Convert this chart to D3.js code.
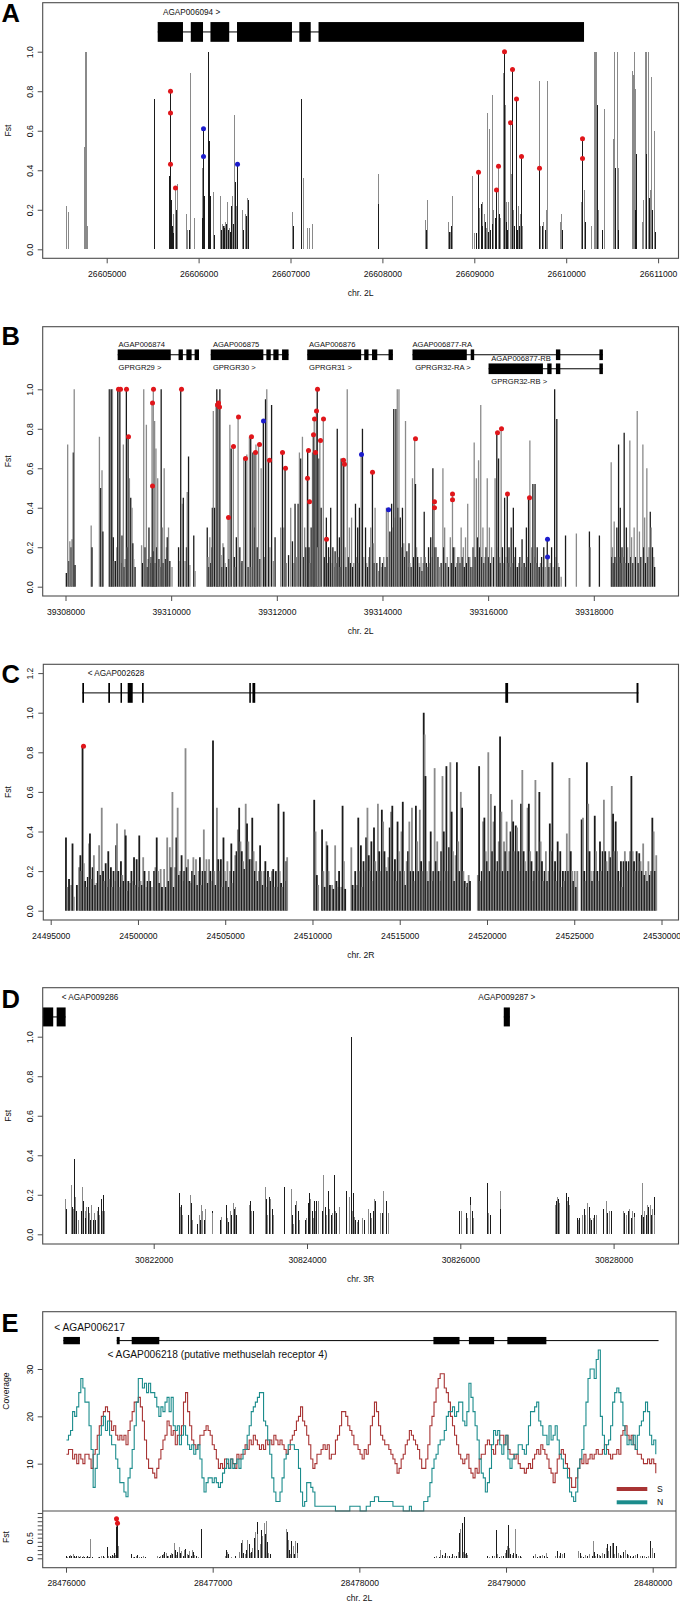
<!DOCTYPE html>
<meta charset="utf-8">
<style>
body { margin: 0; background: #fff; }
svg text { font-family: "Liberation Sans", Arial, Helvetica, sans-serif; }
</style>
<body>
<script src="https://cdn.jsdelivr.net/npm/d3@7"></script>
<script>

// ---------- panel A : chr. 2L, AGAP006094 ----------
var aBase = 26604000;
var aTicks = [26605000, 26606000, 26607000, 26608000, 26609000, 26610000, 26611000];
var aYTicks = [0, 0.2, 0.4, 0.6, 0.8, 1.0];
var aFstDark = [[1517,.76],[1683,.37],[1692,.80],[1702,.25],[1711,.12],[1726,.08],[1749,.20],[1892,.10],[2039,.16],[2048,.61],[2058,.27],[2105,1.0],[2110,.55],[2119,.27],[2172,.07],[2243,.10],[2262,.12],[2281,.11],[2300,.13],[2319,.10],[2338,.09],[2352,.22],[2375,.13],[2394,.34],[2413,.43],[2423,.13],[2484,.10],[2518,.17],[2541,.25],[3025,.12],[3111,.76],[3955,.23],[4472,.10],[4723,.09],[4747,.12],[5022,.08],[5041,.39],[5069,.23],[5088,.12],[5117,.14],[5150,.09],[5174,.10],[5198,.13],[5221,.16],[5236,.30],[5269,.18],[5321,1.0],[5340,.14],[5359,.10],[5411,.91],[5435,.12],[5449,.76],[5463,.10],[5482,.12],[5511,.47],[5705,.41],[5733,.12],[5767,.10],[5956,.10],[6169,.56],[6202,.14],[6331,.73],[6393,.10],[6536,.41],[6559,.10],[6744,.20],[6763,.48],[6863,.48],[6896,.26],[6934,.20],[6963,.09]];
var aFstLight = [[559,.22],[578,.19],[749,.52],[763,1.0],[777,1.0],[787,.12],[1678,.25],[1726,.18],[1740,.31],[1768,.33],[1863,.18],[1877,.10],[1901,.89],[1911,.11],[1949,.16],[2039,.41],[2100,.68],[2157,.29],[2233,.27],[2252,.13],[2271,.12],[2290,.14],[2309,.24],[2328,.11],[2366,.27],[2385,.68],[2404,.22],[2470,.20],[2503,.18],[2532,.26],[3016,.19],[3139,.36],[3182,.11],[3205,.11],[3229,.13],[3955,.38],[4462,.15],[4481,.25],[4709,.14],[4737,.09],[4756,.27],[4975,.37],[4998,.08],[5055,.21],[5079,.24],[5103,.18],[5126,.11],[5141,.69],[5164,.61],[5188,.78],[5207,.20],[5254,.42],[5283,.16],[5307,.89],[5330,.73],[5349,.24],[5368,.24],[5392,.64],[5401,.38],[5425,.20],[5473,.22],[5492,.18],[5520,.12],[5705,.85],[5719,.12],[5748,.14],[5781,.20],[5790,.85],[5933,.14],[5942,.18],[6160,.24],[6193,.30],[6265,.12],[6303,1.0],[6312,1.0],[6322,1.0],[6341,.20],[6408,.71],[6512,.56],[6521,1.0],[6550,1.0],[6569,.41],[6716,.90],[6725,.88],[6735,1.0],[6754,.81],[6820,.14],[6839,.25],[6853,1.0],[6873,1.0],[6886,1.0],[6910,.30],[6920,.87],[6953,.60]];
var aRed = [[1692,.80],[1692,.69],[1692,.43],[1740,.31],[5041,.39],[5236,.30],[5254,.42],[5321,1.0],[5392,.64],[5411,.91],[5449,.76],[5511,.47],[5705,.41],[6169,.46],[6169,.56]];
var aBlue = [[2048,.61],[2048,.47],[2413,.43]];
var aExons = [[1555,1830],[1915,2048],[2129,2333],[2418,3016],[3096,3220],[3305,6194]];

// ---------- panel B : chr. 2L, GPRGR29-32 ----------
var bBase = 39300000;
var bTicks = [39308000, 39310000, 39312000, 39314000, 39316000, 39318000];
var bYTicks = [0, 0.2, 0.4, 0.6, 0.8, 1.0];
var bFst = [[8016,.07],[8041,.72],[8066,.13],[8082,.23],[8107,.20],[8123,.24],[8148,.68],[8165,1.0],[8181,.11],
[8486,.31],[8502,.20],[8642,.76],[8667,.50],[8691,.59],[8708,.28],
[8823,1.0],[8840,1.0],[8856,.13],[8872,1.0],[8889,1.0],[8905,.25],[8922,.13],[8946,.13],[8971,.20],[8988,1.0],[9004,1.0],[9029,1.0],[9050,.12],[9070,.26],[9095,.72],[9112,.10],[9128,.14],[9152,1.0],[9170,.20],[9185,.76],[9210,.55],[9235,.45],[9259,.40],[9275,.22],[9292,.14],[9317,.10],
[9440,.21],[9460,.12],[9481,1.0],[9506,.20],[9531,.82],[9550,.10],[9564,.14],[9580,.30],[9605,.12],[9620,.15],[9638,.93],[9646,.51],[9662,1.0],[9675,.18],[9687,.84],[9700,.12],[9712,.70],[9728,.20],[9745,.55],[9769,.14],[9790,.10],[9811,1.0],[9835,.30],[9850,.12],[9868,.60],[9893,.14],[9910,.20],[9926,.25],[9950,.30],[9975,.13],[10016,.10],
[10140,.20],[10164,.13],[10181,1.0],[10206,.42],[10230,.45],[10263,.13],[10290,.20],[10304,.48],[10329,.66],[10354,.11],[10428,.26],[10453,.08],
[10683,.30],[10699,.15],[10715,.10],[10732,.25],[10750,.12],[10765,.20],[10780,.40],[10798,.89],[10823,.40],[10848,.93],[10864,1.0],[10872,.92],[10889,.93],[10897,.91],[10922,1.0],[10946,.16],[10963,.10],[10980,.22],[10996,.20],[11020,.12],[11045,.10],[11078,.35],[11095,.14],[11111,.82],[11136,.70],[11177,.71],[11195,.15],[11210,.10],[11234,.25],[11267,.86],[11300,.20],[11320,.12],[11341,.13],[11374,.65],[11407,.65],[11432,.67],[11457,.10],[11481,.76],[11506,.76],[11514,.10],[11547,.68],[11580,.30],[11588,.68],[11605,.72],[11629,.20],[11654,.72],[11680,.14],[11703,.60],[11745,.84],[11770,.15],[11786,.95],[11810,1.0],[11843,.64],[11868,.20],[11901,.92],[11934,.13],[11967,.25],
[12074,.30],[12107,.68],[12131,.30],[12156,.60],[12181,.12],[12222,.16],[12263,.40],[12296,.23],[12320,.12],[12345,.42],[12370,.15],[12403,.42],[12428,.68],[12452,.65],[12485,.76],[12510,.15],[12527,.30],[12550,.20],[12576,.55],[12584,.69],[12600,.43],[12609,.20],[12630,.12],[12650,.30],[12675,.68],[12691,.77],[12708,.85],[12724,.68],[12749,.89],[12765,1.0],[12773,.20],[12798,.65],[12815,.74],[12839,.40],[12880,.85],[12900,.15],[12922,.24],[12938,.35],[12960,.12],[12979,.20],[13000,.15],[13020,.40],[13040,.12],[13061,.20],[13080,.10],[13103,.18],[13125,.12],[13144,.80],[13165,.15],[13185,.25],[13200,.10],[13218,.65],[13251,.64],[13267,.62],[13292,.20],[13310,.10],[13333,1.0],[13355,.15],[13374,.30],[13395,.12],[13415,.35],[13435,.10],[13456,.12],[13489,.42],[13510,.15],[13531,.30],[13545,.12],[13564,.40],[13596,.67],[13621,.80],[13646,.15],[13679,.30],[13700,.12],[13720,.10],[13740,.15],[13761,.20],[13778,.30],[13810,.58],[13827,.22],[13845,.12],[13860,.40],[13893,.12],[13926,.08],[13950,.15],[13975,.10],
[14000,.12],[14024,.15],[14050,.10],[14074,.40],[14090,.15],[14107,.39],[14140,.28],[14160,.20],[14173,.42],[14190,.30],[14214,.90],[14230,.35],[14255,.90],[14280,1.0],[14295,.40],[14312,1.0],[14337,.35],[14360,.20],[14378,.40],[14403,.22],[14420,.15],[14436,.84],[14461,.18],[14480,.10],[14502,.22],[14520,.12],[14543,.10],[14568,.55],[14590,.15],[14609,.75],[14625,.52],[14645,.20],[14666,.15],[14690,.12],[14707,.10],[14730,.15],[14749,.08],[14770,.12],[14790,.38],[14810,.15],[14831,.12],[14850,.10],[14872,.20],[14890,.12],[14913,.25],[14935,.15],[14954,.60],[14979,.43],[14995,.20],[15020,.20],[15050,.15],[15078,.10],[15110,.12],[15144,.60],[15160,.20],[15177,.30],[15200,.12],[15226,.15],[15250,.10],[15284,.25],[15305,.12],[15325,.47],[15340,.20],[15366,.20],[15385,.10],[15407,.12],[15430,.15],[15448,.15],[15470,.12],[15489,.30],[15510,.15],[15530,.20],[15550,.10],[15572,.25],[15590,.12],[15613,.42],[15635,.15],[15654,.15],[15675,.10],[15695,.10],[15715,.20],[15736,.73],[15755,.15],[15777,.55],[15800,.25],[15819,.64],[15840,.20],[15860,.92],[15880,.15],[15901,.30],[15920,.12],[15942,.15],[15960,.20],[15983,.55],
[16005,.15],[16024,.30],[16045,.12],[16065,.20],[16100,.15],[16131,.55],[16164,.78],[16180,.20],[16197,.65],[16215,.15],[16230,.12],[16246,.80],[16271,.20],[16290,.12],[16312,.45],[16335,.15],[16362,.47],[16380,.12],[16395,.20],[16415,.10],[16436,.30],[16455,.12],[16477,.40],[16500,.15],[16518,.20],[16540,.10],[16559,.10],[16580,.12],[16600,.15],[16620,.10],[16642,.24],[16660,.12],[16683,.12],[16705,.10],[16724,.30],[16745,.15],[16765,.45],[16790,.74],[16805,.12],[16823,.20],[16847,.52],[16865,.15],[16888,.52],[16910,.12],[16929,.20],[16950,.10],[16971,.10],[16990,.12],[17012,.15],[17030,.10],[17053,.20],[17080,.10],[17119,.24],[17135,.15],[17152,.10],[17175,.12],[17201,.20],[17230,.10],[17259,1.0],[17280,.15],[17300,.85],[17320,.12],[17341,.10],[17382,.05],[17465,.26],[17670,.27],[17917,.28],[17934,.20],[18106,.26],
[18329,.63],[18340,.15],[18353,.20],[18370,.12],[18386,.33],[18400,.15],[18420,.12],[18436,.30],[18452,.15],[18469,.72],[18485,.15],[18501,.40],[18518,.12],[18534,.20],[18555,.15],[18575,.78],[18595,.12],[18617,.30],[18641,.20],[18660,.12],[18682,.74],[18700,.15],[18715,.25],[18740,.12],[18764,.30],[18790,.15],[18822,.89],[18840,.12],[18864,.28],[18890,.15],[18929,.72],[18945,.20],[18962,.35],[18980,.12],[19004,.60],[19025,.15],[19045,.20],[19069,.38],[19086,.30],[19111,.20],[19135,.15],[19152,.10]];
var bRed = [[8988,1],[9029,1],[9152,1],[9185,.76],[9638,.93],[9646,.51],[9662,1],[10181,1],[10872,.92],[10889,.93],[10897,.91],[11078,.35],[11177,.71],[11267,.86],[11407,.65],[11506,.76],[11588,.68],[11654,.72],[11843,.64],[12107,.68],[12156,.60],[12576,.55],[12584,.69],[12600,.43],[12691,.77],[12708,.85],[12724,.68],[12749,.89],[12765,1],[12815,.74],[12880,.85],[12922,.24],[13251,.64],[13267,.62],[13810,.58],[14609,.75],[14979,.43],[14979,.40],[15325,.47],[15325,.44],[16164,.78],[16246,.80],[16362,.47],[16765,.45]];
var bBlue = [[11745,.84],[13596,.67],[14107,.39],[17119,.24],[17119,.15]];
var bGenes = [
  {name: "AGAP006874", alias: "GPRGR29 >", row: 1, span: [8988, 10527], exons: [[8988,9992],[10140,10222],[10288,10387],[10444,10527]], label: 9004},
  {name: "AGAP006875", alias: "GPRGR30 >", row: 1, span: [10749, 12222], exons: [[10749,11745],[11802,11885],[11934,12033],[12099,12222]], label: 10790},
  {name: "AGAP006876", alias: "GPRGR31 >", row: 1, span: [12576, 14197], exons: [[12576,13596],[13654,13736],[13802,13901],[14115,14197]], label: 12610},
  {name: "AGAP006877-RA", alias: "GPRGR32-RA >", row: 1, span: [14568, 18172], exons: [[14568,15596],[15670,15736],[17283,17366],[18106,18172]], label: 14568},
  {name: "AGAP006877-RB", alias: "GPRGR32-RB >", row: 2, span: [16008, 18172], exons: [[16008,17037],[17119,17201],[17283,17366],[18106,18172]], label: 16060}
];

// ---------- panel C : chr. 2R, AGAP002628 ----------
var cBase = 24490000;
var cTicks = [24495000, 24500000, 24505000, 24510000, 24515000, 24520000, 24525000, 24530000];
var cYTicks = [0, 0.2, 0.4, 0.6, 0.8, 1.0, 1.2];
var cFst = [[5875,.37],[5975,.12],[6050,.16],[6175,.13],[6250,.34],[6325,.07],[6500,.13],[6625,.22],[6700,.28],[6750,.20],[6825,.83],[6900,.24],[6975,.15],[7050,.12],[7125,.17],[7200,.34],[7250,.39],[7325,.16],[7400,.22],[7475,.28],[7550,.13],[7625,.14],[7700,.20],[7775,.33],[7850,.18],[7925,.52],[8000,.20],[8075,.15],[8150,.24],[8225,.12],[8300,.30],[8375,.16],[8450,.22],[8525,.12],[8600,.20],[8675,.15],[8750,.33],[8800,.44],[8875,.20],[8950,.12],[9025,.25],[9100,.18],[9175,.15],[9250,.41],[9300,.38],[9375,.10],[9450,.15],[9550,.14],[9625,.20],[9700,.15],[9775,.27],[9850,.13],[9925,.26],[10000,.12],[10075,.38],[10150,.15],[10225,.13],[10300,.27],[10375,.20],[10450,.12],[10550,.15],[10625,.20],[10700,.15],[10800,.12],[10925,.20],[11000,.22],[11075,.37],[11150,.20],[11225,.14],[11300,.21],[11375,.12],[11500,.21],[11600,.12],[11675,.37],[11750,.15],[11825,.32],[11900,.22],[11975,.60],[12050,.12],[12125,.22],[12200,.37],[12275,.52],[12350,.18],[12425,.20],[12500,.28],[12575,.15],[12650,.20],[12725,.82],[12800,.22],[12875,.26],[12950,.15],[13025,.14],[13100,.20],[13175,.27],[13250,.18],[13325,.26],[13400,.13],[13475,.20],[13550,.27],[13625,.13],[13700,.20],[13775,.41],[13850,.20],[13925,.26],[14000,.14],[14075,.26],[14150,.20],[14225,.15],[14300,.86],[14375,.20],[14450,.13],[14525,.52],[14600,.26],[14675,.20],[14750,.26],[14825,.12],[14900,.37],[14975,.20],[15050,.15],[15125,.25],[15200,.12],[15275,.20],[15350,.34],[15425,.14],[15500,.20],[15575,.28],[15650,.30],[15725,.41],[15800,.52],[15875,.35],[15950,.30],[16025,.25],[16100,.21],[16175,.54],[16250,.44],[16325,.35],[16400,.26],[16475,.26],[16550,.47],[16625,.30],[16700,.20],[16775,.25],[16850,.15],[16925,.20],[17000,.33],[17075,.20],[17150,.13],[17225,.20],[17300,.25],[17375,.12],[17450,.20],[17525,.17],[17600,.15],[17675,.20],[17750,.21],[17825,.12],[17900,.20],[17975,.12],[18050,.54],[18125,.20],[18200,.14],[18275,.12],[18350,.50],[18425,.15],[18500,.25],[18550,.27],
[20100,.56],[20175,.40],[20250,.18],[20325,.13],[20550,.41],[20625,.20],[20700,.12],[20800,.35],[20850,.33],[20925,.20],[21000,.13],[21125,.13],[21200,.11],[21300,.33],[21375,.15],[21450,.12],[21525,.20],[21650,.12],[21725,.53],[21800,.25],[21875,.11],[22225,.32],[22300,.13],[22375,.11],[22450,.20],[22550,.13],[22625,.47],[22700,.20],[22775,.33],[22850,.12],[22925,.25],[23000,.20],[23075,.37],[23150,.52],[23225,.28],[23300,.20],[23375,.35],[23450,.15],[23525,.42],[23600,.25],[23675,.20],[23750,.54],[23825,.30],[23900,.20],[23975,.51],[24050,.45],[24125,.30],[24200,.22],[24275,.20],[24350,.27],[24425,.42],[24500,.50],[24575,.53],[24650,.20],[24725,.26],[24800,.15],[24875,.45],[24950,.30],[25025,.20],[25100,.40],[25175,.55],[25250,.20],[25325,.13],[25400,.25],[25475,.30],[25550,.45],[25625,.20],[25700,.52],[25775,.20],[25850,.15],[25925,.53],[26000,.35],[26075,.20],[26150,.51],[26225,.25],[26300,.20],[26375,1.0],[26425,.89],[26475,.68],[26550,.20],[26625,.15],[26700,.25],[26775,.40],[26850,.15],[26925,.20],[27000,.72],[27075,.25],[27150,.35],[27225,.20],[27300,.15],[27375,.30],[27450,.68],[27525,.40],[27600,.20],[27675,.73],[27750,.20],[27825,.32],[27900,.75],[27975,.50],[28050,.30],[28125,.15],[28200,.28],[28275,.75],[28350,.35],[28425,.20],[28500,.60],[28575,.52],[28650,.20],[28725,.15],[28800,.12],[28875,.14],[28950,.18],[29025,.15],
[29475,.18],[29550,.73],[29625,.15],[29700,.20],[29775,.45],[29850,.47],[29925,.30],[30000,.25],[30075,.80],[30150,.20],[30225,.59],[30300,.30],[30375,.45],[30450,.53],[30525,.20],[30600,.25],[30675,.35],[30750,.88],[30825,.50],[30900,.20],[30975,.35],[31050,.30],[31125,.45],[31200,.20],[31275,.30],[31350,.40],[31425,.56],[31500,.45],[31575,.30],[31650,.43],[31725,.42],[31800,.30],[31875,.20],[31950,.54],[32025,.71],[32100,.30],[32175,.25],[32250,.20],[32325,.52],[32400,.54],[32475,.30],[32550,.25],[32625,.15],[32700,.20],[32775,.66],[32850,.30],[32925,.20],[33000,.60],[33075,.35],[33150,.25],[33225,.15],[33300,.20],[33375,.30],[33450,.15],[33525,.20],[33600,.44],[33675,.30],[33750,.75],[33825,.20],[33900,.25],[33975,.15],[34050,.35],[34125,.20],[34200,.30],[34275,.12],[34350,.20],[34425,.15],[34500,.20],[34575,.39],[34650,.20],[34725,.67],[34800,.30],[34875,.20],[34950,.15],[35025,.20],[35100,.12],[35175,.20],
[35425,.46],[35500,.47],[35575,.20],[35650,.15],[35725,.75],[35800,.54],[35875,.30],[35950,.20],[36025,.15],[36100,.20],[36175,.48],[36250,.30],[36325,.20],[36400,.15],[36475,.35],[36550,.20],[36625,.30],[36700,.56],[36775,.30],[36850,.25],[36925,.20],[37000,.30],[37075,.27],[37150,.63],[37225,.49],[37300,.30],[37375,.45],[37450,.30],[37525,.20],[37600,.15],[37675,.25],[37750,.12],[37825,.25],[37900,.30],[37975,.25],[38050,.20],[38125,.25],[38200,.30],[38275,.68],[38350,.30],[38425,.25],[38500,.20],[38575,.30],[38650,.20],[38725,.29],[38800,.25],[38875,.20],[38950,.34],[39025,.18],[39100,.20],[39175,.15],[39250,.25],[39325,.18],[39400,.20],[39475,.47],[39550,.40],[39625,.20],[39700,.28]];
var cRed = [[6825,.83]];
var cExons = [[6811,6908],[8300,8398],[9000,9022],[9412,9699],[10232,10329],[16380,16470],[16560,16720],[31050,31210],[38570,38680]];

// ---------- panel D : chr. 3R, AGAP009286 / AGAP009287 ----------
var dBase = 30820000;
var dTicks = [30822000, 30824000, 30826000, 30828000];
var dYTicks = [0, 0.2, 0.4, 0.6, 0.8, 1.0];
var dFst = [[848,.18],[859,.13],[922,.25],[933,.14],[950,.13],[961,.38],[973,.19],[984,.12],[1007,.07],[1052,.12],[1069,.24],[1080,.17],[1098,.12],[1109,.08],[1120,.14],[1137,.14],[1154,.11],[1171,.07],[1188,.15],[1205,.07],[1222,.11],[1239,.07],[1256,.12],[1273,.14],[1290,.10],[1308,.18],[1319,.12],[1336,.20],[1347,.12],
[2329,.21],[2341,.14],[2358,.15],[2369,.10],[2454,.10],[2471,.20],[2482,.16],[2499,.07],[2568,.05],[2585,.10],[2602,.07],[2613,.15],[2624,.08],[2636,.12],[2653,.07],[2675,.13],[2755,.12],[2766,.11],[2868,.07],[2880,.09],[2937,.15],[2954,.08],[2971,.06],[2993,.12],[3010,.10],[3033,.16],[3050,.13],[3067,.14],[3078,.10],
[3237,.15],[3254,.17],[3271,.12],[3294,.12],[3447,.24],[3464,.18],[3476,.10],[3504,.19],[3521,.18],[3538,.13],[3561,.10],[3703,.24],[3788,.23],[3805,.10],[3822,.05],[3845,.15],[3862,.17],[3879,.12],[3901,.07],[3975,.07],[3992,.08],[4009,.16],[4021,.15],[4032,.21],[4043,.18],[4060,.12],[4072,.08],
[4089,.17],[4106,.12],[4123,.17],[4140,.17],[4197,.12],[4214,.30],[4231,.14],[4253,.10],[4270,.22],[4287,.13],[4310,.10],[4327,.11],[4350,.30],[4367,.12],[4384,.11],[4412,.14],[4509,.22],[4543,.19],[4571,1.0],[4583,.12],[4605,.21],[4617,.09],[4628,.07],[4651,.06],[4668,.07],[4713,.08],[4742,.07],[4798,.13],[4821,.11],[4838,.08],[4855,.12],[4878,.18],[4889,.17],[4952,.11],[4980,.11],[4997,.22],[5031,.17],[5054,.11],
[5985,.12],[6013,.12],[6070,.11],[6087,.08],[6121,.19],[6132,.15],[6149,.12],[6166,.08],[6342,.26],[6359,.11],[6388,.10],[6512,.22],[6524,.13],
[7239,.15],[7250,.17],[7267,.19],[7279,.18],[7290,.16],[7381,.21],[7392,.17],[7409,.19],[7421,.15],
[7523,.08],[7534,.07],[7551,.08],[7591,.10],[7608,.13],[7631,.10],[7648,.13],[7659,.16],[7676,.14],[7693,.08],[7710,.07],[7727,.08],[7744,.10],[7772,.10],[7863,.13],[7903,.17],[7920,.11],[7943,.12],[7960,.12],
[8119,.12],[8136,.11],[8158,.10],[8187,.12],[8204,.13],[8227,.08],[8244,.12],[8261,.11],[8272,.09],[8357,.10],[8369,.26],[8386,.09],[8403,.12],[8420,.10],[8437,.15],[8454,.14],[8471,.15],[8488,.10],[8505,.13],[8522,.19],[8533,.10]];
var dExons9286 = [[400,689],[734,851]];
var dExons9287 = [[6567,6647]];

// ---------- panel E : chr. 2L, AGAP006218 coverage + Fst ----------
var eBase = 28476000;
var eTicks = [28476000, 28477000, 28478000, 28479000, 28480000];
var eCovTicks = [10, 20, 30];
var eFstTicks = [0, 0.1, 0.2, 0.3, 0.4, 0.5, 0.6, 0.7, 0.8, 0.9, 1.0, 1.1];
var eCovS = [[3,12],[17,13],[31,13],[45,11],[59,12],[73,10],[87,12],[101,11],[115,10],[129,12],[143,12],[157,11],[171,9],[185,12],[199,13],[213,16],[227,18],[241,20],[255,21],[269,22],[283,21],[297,19],[311,17],[325,18],[339,16],[353,15],[367,16],[381,15],[395,16],[409,14],[423,17],[437,19],[451,21],[465,23],[479,23],[493,24],[507,22],[521,19],[535,15],[549,11],[563,9],[577,9],[591,8],[605,7],[619,9],[633,11],[647,13],[661,15],[675,16],[689,19],[703,18],[717,16],[731,17],[745,14],[759,16],[773,16],[787,18],[801,23],[815,25],[829,21],[843,18],[857,15],[871,14],[885,13],[899,14],[913,16],[927,16],[941,17],[955,18],[969,17],[983,16],[997,14],[1011,13],[1025,11],[1039,9],[1053,10],[1067,9],[1081,11],[1095,10],[1109,9],[1123,11],[1137,10],[1151,9],[1165,12],[1179,11],[1193,12],[1207,12],[1221,14],[1235,13],[1249,15],[1263,14],[1277,16],[1291,15],[1305,14],[1319,13],[1333,14],[1347,13],[1361,15],[1375,14],[1389,15],[1403,14],[1417,16],[1431,15],[1445,14],[1459,15],[1473,14],[1487,13],[1501,12],[1515,13],[1529,15],[1543,16],[1557,17],[1571,19],[1585,20],[1599,22],[1613,19],[1627,18],[1641,16],[1655,14],[1669,11],[1683,9],[1697,10],[1711,12],[1725,12],[1739,13],[1753,14],[1767,13],[1781,14],[1795,11],[1809,12],[1823,12],[1837,15],[1851,16],[1865,18],[1879,21],[1893,21],[1907,20],[1921,18],[1935,17],[1949,16],[1963,14],[1977,14],[1991,13],[2005,12],[2019,11],[2033,13],[2047,12],[2061,14],[2075,18],[2089,20],[2103,23],[2117,21],[2131,18],[2145,16],[2159,15],[2173,14],[2187,14],[2201,13],[2215,12],[2229,11],[2243,10],[2257,8],[2271,9],[2285,11],[2299,12],[2313,14],[2327,15],[2341,17],[2355,16],[2369,15],[2383,14],[2397,13],[2411,11],[2425,9],[2439,9],[2453,11],[2467,14],[2481,18],[2495,20],[2509,23],[2523,26],[2537,28],[2551,29],[2565,29],[2579,26],[2593,25],[2607,23],[2621,20],[2635,18],[2649,16],[2663,14],[2677,12],[2691,11],[2705,10],[2719,11],[2733,12],[2747,9],[2761,8],[2775,7],[2789,9],[2803,8],[2817,11],[2831,12],[2845,12],[2859,14],[2873,15],[2887,14],[2901,13],[2915,12],[2929,14],[2943,15],[2957,16],[2971,16],[2985,14],[2999,16],[3013,13],[3027,12],[3041,12],[3055,11],[3069,12],[3083,10],[3097,9],[3111,9],[3125,8],[3139,9],[3153,10],[3167,9],[3181,11],[3195,12],[3209,13],[3223,12],[3237,14],[3251,13],[3265,12],[3279,11],[3293,9],[3307,8],[3321,6],[3335,8],[3349,11],[3363,12],[3377,13],[3391,12],[3405,10],[3419,9],[3433,7],[3447,5],[3461,5],[3475,7],[3489,9],[3503,11],[3517,10],[3531,12],[3545,10],[3559,11],[3573,12],[3587,11],[3601,12],[3615,13],[3629,12],[3643,12],[3657,13],[3671,14],[3685,13],[3699,12],[3713,11],[3727,12],[3741,12],[3755,13],[3769,12],[3783,16],[3797,17],[3811,18],[3825,16],[3839,15],[3853,16],[3867,14],[3881,13],[3895,12],[3909,12],[3923,11],[3937,10],[3951,10],[3965,11],[3979,10],[3993,11],[4007,10],[4021,8]];
var eCovN = [[3,15],[17,16],[31,17],[45,21],[59,20],[73,22],[87,25],[101,28],[115,26],[129,23],[143,23],[157,18],[171,13],[185,5],[199,9],[213,12],[227,16],[241,18],[255,20],[269,17],[283,19],[297,16],[311,14],[325,14],[339,11],[353,9],[367,6],[381,6],[395,4],[409,3],[423,7],[437,9],[451,13],[465,18],[479,23],[493,28],[507,28],[521,26],[535,27],[549,25],[563,27],[577,25],[591,25],[605,24],[619,22],[633,20],[647,22],[661,21],[675,23],[689,24],[703,21],[717,24],[731,18],[745,17],[759,18],[773,14],[787,16],[801,18],[815,16],[829,14],[843,13],[857,14],[871,12],[885,13],[899,14],[913,11],[927,7],[941,4],[955,6],[969,7],[983,7],[997,6],[1011,7],[1025,6],[1039,5],[1053,6],[1067,8],[1081,9],[1095,11],[1109,9],[1123,11],[1137,9],[1151,10],[1165,11],[1179,9],[1193,11],[1207,13],[1221,13],[1235,16],[1249,18],[1263,21],[1277,22],[1291,23],[1305,24],[1319,25],[1333,25],[1347,19],[1361,18],[1375,15],[1389,12],[1403,7],[1417,4],[1431,2],[1445,2],[1459,4],[1473,7],[1487,11],[1501,12],[1515,14],[1529,14],[1543,14],[1557,13],[1571,13],[1585,9],[1599,4],[1613,1],[1627,2],[1641,6],[1655,6],[1669,5],[1683,4],[1697,1],[1711,1],[1781,1],[1823,1],[1837,0],[1907,0],[1935,1],[1991,1],[2005,0],[2033,0],[2047,1],[2075,2],[2103,3],[2131,2],[2159,2],[2187,2],[2229,1],[2271,1],[2299,0],[2341,1],[2355,0],[2425,0],[2439,2],[2467,3],[2481,6],[2495,9],[2509,11],[2523,12],[2537,14],[2551,15],[2565,15],[2579,17],[2593,20],[2607,21],[2621,21],[2635,22],[2649,20],[2663,21],[2677,23],[2691,23],[2705,19],[2719,18],[2733,21],[2747,27],[2761,24],[2775,21],[2789,18],[2803,15],[2817,11],[2831,8],[2845,7],[2859,4],[2873,6],[2887,9],[2901,14],[2915,17],[2929,16],[2943,17],[2957,14],[2971,12],[2985,14],[2999,16],[3013,11],[3027,9],[3041,11],[3055,12],[3069,12],[3083,14],[3097,14],[3111,13],[3125,12],[3139,14],[3153,18],[3167,21],[3181,21],[3195,22],[3209,23],[3223,19],[3237,18],[3251,16],[3265,16],[3279,14],[3293,18],[3307,15],[3321,16],[3335,18],[3349,15],[3363,12],[3377,11],[3391,9],[3405,9],[3419,7],[3433,4],[3447,3],[3461,2],[3475,4],[3489,9],[3503,11],[3517,13],[3531,18],[3545,23],[3559,28],[3573,30],[3587,30],[3601,28],[3615,32],[3629,34],[3643,20],[3657,16],[3671,12],[3685,14],[3699,15],[3713,18],[3727,23],[3741,25],[3755,26],[3769,25],[3783,23],[3797,18],[3811,16],[3825,14],[3839,15],[3853,14],[3867,16],[3881,13],[3895,16],[3909,18],[3923,19],[3937,21],[3951,23],[3965,21],[3979,16],[3993,14],[4007,15],[4021,12]];
var eFst = [[0,.05],[9,.04],[18,.06],[27,.08],[36,.05],[45,.10],[53,.05],[62,.04],[71,.06],[80,.05],[89,.03],[98,.05],[107,.04],[116,.05],[125,.02],[134,.03],[142,.05],[151,.04],[160,.03],[166,.48],[175,.04],
[220,.04],[228,.03],[237,.05],[249,.06],[261,.04],[279,.27],[288,.05],[297,.06],[306,.04],[315,.07],[323,.05],[329,.12],[335,.09],[338,.80],[341,.96],[344,.75],[347,.70],[350,.85],[353,.30],
[445,.10],[454,.04],[463,.03],[475,.05],[487,.08],[498,.04],[513,.04],[528,.05],[537,.03],
[623,.05],[632,.04],[641,.06],[653,.08],[662,.10],[671,.15],[679,.12],[688,.06],[697,.05],[706,.08],[715,.12],[724,.10],[733,.38],[742,.20],[751,.08],[760,.15],[768,.28],[777,.12],[786,.18],[795,.06],[804,.20],[813,.22],[822,.10],[831,.08],[840,.18],[849,.06],[857,.20],[866,.15],[875,.08],[884,.05],[899,.04],[917,.70],
[1086,.05],[1092,.20],[1098,.15],[1107,.10],[1122,.04],[1151,.05],[1181,.15],[1190,.38],[1199,.45],[1208,.12],[1219,.10],[1228,.20],[1237,.45],[1246,.35],[1255,.12],[1264,.15],[1270,.25],[1282,.50],[1291,.65],[1300,.88],[1305,.60],[1311,.20],[1320,.35],[1329,.68],[1338,.55],[1347,.20],[1353,.85],[1359,.60],[1365,.90],[1371,.40],[1380,.12],[1389,.10],
[1501,.70],[1507,.65],[1513,.45],[1519,.20],[1528,.10],[1537,.42],[1546,.30],[1555,.10],[1564,.42],[1573,.37],[1578,.12],
[2510,.04],[2525,.05],[2540,.04],[2552,.20],[2561,.07],[2575,.05],[2587,.12],[2599,.05],[2611,.06],[2623,.04],[2635,.10],[2647,.05],[2658,.05],[2670,.15],[2679,.62],[2688,.70],[2697,.85],[2706,.15],[2712,1.0],[2718,.10],[2727,.12],[2736,.08],
[2872,.05],[2887,.04],[2902,.06],[2917,.05],[2931,.68],[2940,.10],[2955,.04],[2967,.05],[2979,.06],[2991,.12],[3000,.20],[3006,.30],[3011,.80],[3017,.25],[3026,.10],[3038,.08],[3050,.12],[3059,.72],[3068,.10],[3080,.06],[3095,.05],[3104,.04],
[3184,.05],[3198,.10],[3210,.04],[3222,.06],[3234,.05],[3246,.08],[3258,.05],[3273,.12],[3282,.04],
[3335,.05],[3347,.18],[3359,.06],[3371,.12],[3382,.10],[3394,.12],
[3492,.18],[3501,.12],[3510,.05],[3525,.04],[3540,.07],[3554,.05],[3569,.10],[3584,.05],[3590,.43],[3599,.15],[3608,.05],[3620,.10],[3632,.08],[3644,.06],[3655,.12],[3667,.10],[3679,.26],[3688,.35],[3697,.18],[3709,.30],[3721,.38],[3730,.37],[3738,.10],[3750,.30],[3762,.12],[3774,.08],[3786,.05],[3798,.15],[3810,.20],[3822,.10],[3833,.08],[3845,.05],[3857,.04],[3869,.05],[3881,.07],[3896,.10],[3911,.05],[3925,.06],[3940,.05],[3955,.04],[3970,.06],[3985,.42],[3994,.25],[4006,.12]];
var eRed = [[341,.96],[350,.85]];
var eExons6217 = [[-18,95]];
var eExons6218 = [[346,366],[448,636],[2505,2683],[2747,2919],[3009,3275]];

// ---------------------------------------------------------------
var dark = "#1b1b1b", light = "#8a8a8a", frame = "#4d4d4d";
var fmt1 = d3.format(".1f");

var svg = d3.select("body").append("svg")
    .attr("width", 680)
    .attr("height", 1603)
    .attr("font-family", "'Liberation Sans', Arial, Helvetica, sans-serif");

function frameBox(l, r, t, b) {
  svg.append("rect")
      .attr("x", l).attr("y", t)
      .attr("width", r - l).attr("height", b - t)
      .attr("fill", "none")
      .attr("stroke", frame)
      .attr("stroke-width", 1.1);
}

function clipped(id, l, r, t, b) {
  svg.append("clipPath").attr("id", id)
    .append("rect").attr("x", l).attr("y", t).attr("width", r - l).attr("height", b - t);
  return svg.append("g").attr("clip-path", "url(#" + id + ")");
}

function bottomAxis(x, yPix, ticks) {
  var g = svg.append("g")
      .attr("transform", "translate(0," + yPix + ")")
      .call(d3.axisBottom(x).tickValues(ticks).tickSize(5).tickFormat(d3.format("d")));
  g.attr("font-family", null).attr("font-size", 8.6);
  g.select(".domain").remove();
  g.selectAll("line").attr("stroke", frame);
  g.selectAll("text").attr("y", 15.7).attr("dy", "0.35em").attr("fill", "#111");
}

function leftAxis(y, xPix, ticks, fmt) {
  var g = svg.append("g")
      .attr("transform", "translate(" + xPix + ",0)")
      .call(d3.axisLeft(y).tickValues(ticks).tickSize(5).tickFormat(fmt));
  g.attr("font-family", null).attr("font-size", 8.6);
  g.select(".domain").remove();
  g.selectAll("line").attr("stroke", frame);
  g.selectAll("text")
      .attr("x", 0).attr("y", -10).attr("dy", 0)
      .attr("transform", "rotate(-90)")
      .attr("text-anchor", "middle")
      .attr("fill", "#111");
}

function label(txt, x, y, size, opts) {
  opts = opts || {};
  var t = svg.append("text")
      .attr("x", x).attr("y", y)
      .attr("font-size", size)
      .attr("fill", "#111")
      .attr("text-anchor", opts.anchor || "start")
      .attr("dominant-baseline", opts.baseline || "central")
      .text(txt);
  if (opts.bold) t.attr("font-weight", "bold");
  if (opts.rotate) t.attr("transform", "rotate(-90," + x + "," + y + ")");
  return t;
}

function letter(ch, yBase) {
  label(ch, 1.5, yBase, 25.5, {bold: true, baseline: "alphabetic"}).attr("fill", "#000");
}

// one vertical segment per SNP, from 0 up to its Fst value
function bars(g, x, y, data, base, colour, width, crisp) {
  var px = crisp
      ? function(d) { return Math.round(x(base + d[0])) + 0.5; }
      : function(d) { return x(base + d[0]); };
  g.selectAll(null)
    .data(data)
    .enter().append("line")
      .attr("x1", px)
      .attr("x2", px)
      .attr("y1", y(0))
      .attr("y2", function(d) { return y(d[1]); })
      .attr("stroke", colour)
      .attr("stroke-width", width || 1)
      .attr("shape-rendering", crisp ? "crispEdges" : null);
}

function dots(g, x, y, data, base, colour) {
  g.selectAll(null)
    .data(data)
    .enter().append("circle")
      .attr("cx", function(d) { return Math.round(x(base + d[0])) + 0.5; })
      .attr("cy", function(d) { return y(d[1]); })
      .attr("r", 2.5)
      .attr("fill", colour);
}

function gene(g, x, y, base, span, exons, yc, half) {
  g.append("line")
      .attr("x1", x(base + span[0])).attr("x2", x(base + span[1]))
      .attr("y1", y(yc)).attr("y2", y(yc))
      .attr("stroke", "#000").attr("stroke-width", 1);
  g.selectAll(null)
    .data(exons)
    .enter().append("rect")
      .attr("x", function(d) { return x(base + d[0]); })
      .attr("width", function(d) { return Math.max(1.5, x(base + d[1]) - x(base + d[0])); })
      .attr("y", y(yc + half))
      .attr("height", y(yc - half) - y(yc + half))
      .attr("fill", "#000");
}

function alt(phase) { return function(d, i) { return (i + phase) % 2 ? light : dark; }; }

// ---------------- A ----------------
(function() {
  var L = 42.7, R = 678.5, T = 2.7, B = 258.3;
  var x = d3.scaleLinear().domain([26605000, 26611000]).range([106.7, 658.1]);
  var y = d3.scaleLinear().domain([0, 1]).range([249.3, 51.7]);
  var g = clipped("clipA", L, R, T, B);
  bars(g, x, y, aFstLight, aBase, light, 1, true);
  bars(g, x, y, aFstDark, aBase, dark, 1, true);
  dots(g, x, y, aRed, aBase, "#e0161b");
  dots(g, x, y, aBlue, aBase, "#1c1ccc");
  gene(g, x, y, aBase, [1555, 6194], aExons, 1.1, 0.05);
  label("AGAP006094 >", x(aBase + 1613), y(1.2), 8.2);
  frameBox(L, R, T, B);
  bottomAxis(x, B, aTicks);
  leftAxis(y, L, aYTicks, fmt1);
  label("chr. 2L", (L + R) / 2, B + 35, 8.6, {anchor: "middle"});
  label("Fst", 8, (T + B) / 2, 8.6, {anchor: "middle", rotate: true});
  letter("A", 22);
})();

// ---------------- B ----------------
(function() {
  var L = 42.7, R = 678.5, T = 326.7, B = 596;
  var x = d3.scaleLinear().domain([39308000, 39318000]).range([65.5, 593.8]);
  var y = d3.scaleLinear().domain([0, 1]).range([586.7, 389.3]);
  var g = clipped("clipB", L, R, T, B);
  bars(g, x, y, bFst, bBase, alt(0), 1.3, false);
  dots(g, x, y, bRed, bBase, "#e0161b");
  dots(g, x, y, bBlue, bBase, "#1c1ccc");
  bGenes.forEach(function(gn) {
    var yc = gn.row === 1 ? 1.175 : 1.104;
    gene(g, x, y, bBase, gn.span, gn.exons, yc, 0.027);
    label(gn.name, x(bBase + gn.label), y(yc + 0.052), 7.6);
    label(gn.alias, x(bBase + gn.label + (gn.name === "AGAP006877-RA" ? 50 : 0)), y(yc - 0.064), 7.6);
  });
  frameBox(L, R, T, B);
  bottomAxis(x, B, bTicks);
  leftAxis(y, L, bYTicks, fmt1);
  label("chr. 2L", (L + R) / 2, B + 35, 8.6, {anchor: "middle"});
  label("Fst", 8, (T + B) / 2, 8.6, {anchor: "middle", rotate: true});
  letter("B", 345);
})();

// ---------------- C ----------------
(function() {
  var L = 43.3, R = 678.5, T = 664.3, B = 920;
  var x = d3.scaleLinear().domain([24495000, 24530000]).range([50.7, 661.5]);
  var y = d3.scaleLinear().domain([0, 1]).range([910.7, 712.7]);
  var g = clipped("clipC", L, R, T, B);
  bars(g, x, y, cFst, cBase, alt(0), 1.8, false);
  dots(g, x, y, cRed, cBase, "#e0161b");
  gene(g, x, y, cBase, [6811, 38680], cExons, 1.1, 0.05);
  label("< AGAP002628", x(cBase + 7120), y(1.2), 8.2);
  frameBox(L, R, T, B);
  bottomAxis(x, B, cTicks);
  leftAxis(y, L, cYTicks, fmt1);
  label("chr. 2R", (L + R) / 2, B + 35, 8.6, {anchor: "middle"});
  label("Fst", 8, (T + B) / 2, 8.6, {anchor: "middle", rotate: true});
  letter("C", 683);
})();

// ---------------- D ----------------
(function() {
  var L = 42.7, R = 678.5, T = 987.7, B = 1244;
  var x = d3.scaleLinear().domain([30822000, 30828000]).range([153.7, 613.6]);
  var y = d3.scaleLinear().domain([0, 1]).range([1234.3, 1036.7]);
  var g = clipped("clipD", L, R, T, B);
  bars(g, x, y, dFst, dBase, alt(1), 1, true);
  gene(g, x, y, dBase, [400, 851], dExons9286, 1.1, 0.048);
  gene(g, x, y, dBase, [6567, 6647], dExons9287, 1.1, 0.048);
  label("< AGAP009286", x(dBase + 799), y(1.2), 8.2);
  label("AGAP009287 >", x(dBase + 6234), y(1.2), 8.2);
  frameBox(L, R, T, B);
  bottomAxis(x, B, dTicks);
  leftAxis(y, L, dYTicks, fmt1);
  label("chr. 3R", (L + R) / 2, B + 35, 8.6, {anchor: "middle"});
  label("Fst", 8, (T + B) / 2, 8.6, {anchor: "middle", rotate: true});
  letter("D", 1008);
})();

// ---------------- E ----------------
(function() {
  var L = 42.7, R = 676, T = 1311.7, S = 1511, B = 1567.7;
  var x = d3.scaleLinear().domain([28476000, 28480000]).range([66, 652.7]);
  var yc = d3.scaleLinear().domain([0, 30]).range([1511, 1369]);
  var yf = d3.scaleLinear().domain([0, 0.5]).range([1558.3, 1537.7]);

  var gc = clipped("clipE1", L, R, T, S + 1);
  gene(gc, x, yc, eBase, [-18, 95], eExons6217, 36, 0.77);
  gene(gc, x, yc, eBase, [346, 4040], eExons6218, 36, 0.77);

  var line = d3.line()
      .x(function(d) { return x(eBase + d[0]); })
      .y(function(d) { return yc(d[1]); })
      .curve(d3.curveStepAfter);
  gc.append("path").datum(eCovS)
      .attr("d", line).attr("fill", "none")
      .attr("stroke", "#a83434").attr("stroke-width", 1.1);
  gc.append("path").datum(eCovN)
      .attr("d", line).attr("fill", "none")
      .attr("stroke", "#1b8c8c").attr("stroke-width", 1.1);

  label("< AGAP006217", 54.3, 1327.7, 10.2);
  label("< AGAP006218 (putative methuselah receptor 4)", 107.4, 1354.3, 10.2);

  // legend
  var lg = svg.append("g");
  [["S", "#a83434", 1489], ["N", "#1b8c8c", 1502.3]].forEach(function(k) {
    lg.append("line").attr("x1", 616.7).attr("x2", 647.3).attr("y1", k[2]).attr("y2", k[2])
        .attr("stroke", k[1]).attr("stroke-width", 4);
    label(k[0], 657, k[2], 8.6);
  });

  var gf = clipped("clipE2", L, R, S, B);
  bars(gf, x, yf, eFst, eBase, alt(0), 1, true);
  dots(gf, x, yf, eRed, eBase, "#e0161b");

  frameBox(L, R, T, B);
  svg.append("line").attr("x1", L).attr("x2", R).attr("y1", S).attr("y2", S)
      .attr("stroke", frame).attr("stroke-width", 1.1);
  bottomAxis(x, B, eTicks);
  leftAxis(yc, L, eCovTicks, d3.format("d"));
  leftAxis(yf, L, eFstTicks, function(d) { return d === 0 ? "0" : (d === 0.5 ? "0.5" : ""); });
  label("chr. 2L", (L + R) / 2, B + 30, 8.6, {anchor: "middle"});
  label("Coverage", 5.5, 1391, 8.6, {anchor: "middle", rotate: true});
  label("Fst", 5.5, 1537, 8.6, {anchor: "middle", rotate: true});
  letter("E", 1332);
})();

</script>
</body>
